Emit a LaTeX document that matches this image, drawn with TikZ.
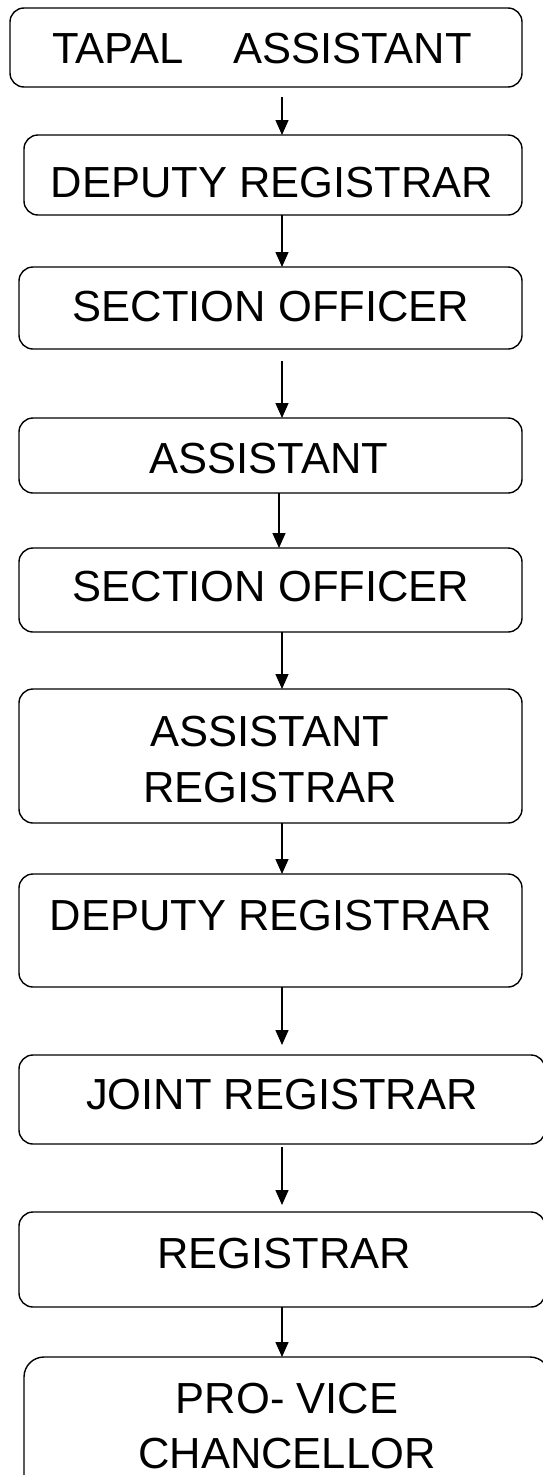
\documentclass[tikz,border=0pt]{standalone}
\usepackage{fontspec}
\setmainfont{Liberation Sans}
\usetikzlibrary{arrows.meta}
\begin{document}
\begin{tikzpicture}[x=1pt,y=-1pt,
  box/.style={draw=black, line width=1.4pt, rounded corners=14pt, inner sep=0pt, outer sep=0pt},
  lbl/.style={anchor=base, inner sep=0pt, font=\fontsize{43.5}{50}\selectfont},
  arr/.style={line width=1.4pt, -{Triangle[width=13pt,length=15pt]}}]
\clip (0,0) rectangle (543,1475);
\fill[white] (0,0) rectangle (543,1475);
\coordinate (ax) at (282,0);
\coordinate (ay) at (279,0);
% boxes
\node[box, minimum width=512pt, minimum height=79pt] (b1) at (266,47.5) {};
\node[box, minimum width=498pt, minimum height=80pt] (b2) at (273,175) {};
\node[box, minimum width=503pt, minimum height=82pt] (b3) at (270.5,308) {};
\node[box, minimum width=503pt, minimum height=75pt] (b4) at (270.5,455.5) {};
\node[box, minimum width=503pt, minimum height=84pt] (b5) at (270.5,590) {};
\node[box, minimum width=503pt, minimum height=134pt] (b6) at (270.5,756) {};
\node[box, minimum width=503pt, minimum height=113pt] (b7) at (270.5,930.5) {};
\node[box, minimum width=526pt, minimum height=89pt] (b8) at (282,1099.5) {};
\node[box, minimum width=526pt, minimum height=95pt] (b9) at (282,1259.5) {};
\node[box, minimum width=526pt, minimum height=143pt, rounded corners=20pt] (b10) at (287,1428.5) {};
% labels
\node[lbl] (t1) at (262,63) {TAPAL\hspace{50pt}ASSISTANT};
\node[lbl] (t2) at (272,197) {DEPUTY REGISTRAR};
\node[lbl] (t3) at (271,321) {SECTION OFFICER};
\node[lbl] (t4) at (269,473) {ASSISTANT};
\node[lbl] (t5) at (271,601) {SECTION OFFICER};
\node[lbl] (t6a) at (270,746) {ASSISTANT};
\node[lbl] (t6b) at (270,802) {REGISTRAR};
\node[lbl] (t7) at (271,930) {DEPUTY REGISTRAR};
\node[lbl] (t8) at (282,1109) {JOINT REGISTRAR};
\node[lbl] (t9) at (284,1268) {REGISTRAR};
\node[lbl] (t10a) at (287,1413) {PRO- VICE};
\node[lbl] (t10b) at (287,1468) {CHANCELLOR};
% arrows
\draw[arr, shorten <=10pt] (b1.south -| ax) -- (b2.north -| ax);
\draw[arr] (b2.south -| ax) -- (b3.north -| ax);
\draw[arr, shorten <=12pt] (b3.south -| ax) -- (b4.north -| ax);
\draw[arr] (b4.south -| ay) -- (b5.north -| ay);
\draw[arr] (b5.south -| ax) -- (b6.north -| ax);
\draw[arr] (b6.south -| ax) -- (b7.north -| ax);
\draw[arr, shorten >=10pt] (b7.south -| ax) -- (b8.north -| ax);
\draw[arr, shorten <=3pt, shorten >=7pt] (b8.south -| ax) -- (b9.north -| ax);
\draw[arr] (b9.south -| ax) -- (b10.north -| ax);
\end{tikzpicture}
\end{document}
